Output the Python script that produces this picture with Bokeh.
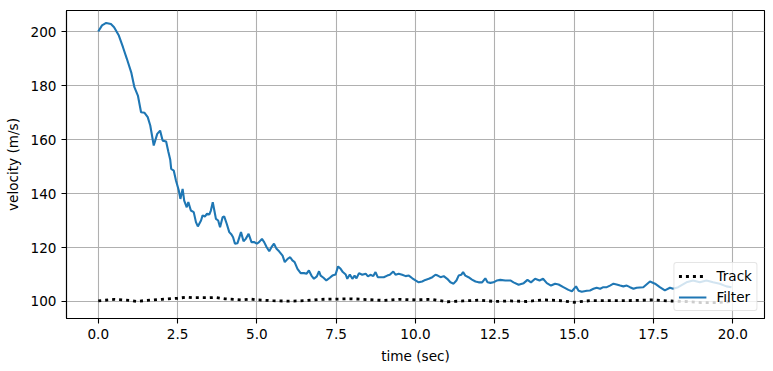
from bokeh.plotting import figure
from bokeh.models import Range1d, FixedTicker, Legend, LegendItem
from bokeh.embed import file_html
from bokeh.resources import INLINE

# ---- data ----
filter_t = [0.00, 0.12, 0.25, 0.40, 0.50, 0.65, 0.78, 0.90, 1.04, 1.14, 1.25, 1.35, 1.46, 1.56,
            1.64, 1.75, 1.86, 1.95, 2.03, 2.14, 2.21, 2.27, 2.30, 2.38, 2.45, 2.54, 2.59, 2.66,
            2.71, 2.79, 2.84, 2.92, 3.01, 3.08, 3.14, 3.24, 3.29, 3.36, 3.43, 3.50, 3.55, 3.61,
            3.66, 3.71, 3.78, 3.84, 3.92, 3.97, 4.05, 4.13, 4.20, 4.25, 4.31, 4.39, 4.50, 4.58,
            4.65, 4.74, 4.83, 4.92, 5.00, 5.07, 5.16, 5.23, 5.31, 5.39, 5.46, 5.54, 5.62, 5.70,
            5.81, 5.88, 5.97, 6.05, 6.12, 6.19, 6.28, 6.38, 6.49, 6.57, 6.64, 6.72, 6.80, 6.89,
            6.96, 7.01, 7.10, 7.19, 7.30, 7.38, 7.48, 7.56, 7.64, 7.71, 7.80, 7.85, 7.93, 8.01,
            8.08, 8.14, 8.22, 8.32, 8.43, 8.50, 8.58, 8.67, 8.74, 8.81, 8.90, 9.00, 9.11, 9.19,
            9.30, 9.37, 9.47, 9.58, 9.69, 9.79, 9.90, 10.00, 10.10, 10.21, 10.31, 10.42, 10.53,
            10.63, 10.70, 10.79, 10.89, 11.00, 11.10, 11.20, 11.29, 11.36, 11.44, 11.50, 11.57,
            11.67, 11.78, 11.89, 11.99, 12.10, 12.20, 12.27, 12.36, 12.46, 12.57, 12.67, 12.83,
            12.99, 13.09, 13.25, 13.41, 13.53, 13.64, 13.77, 13.91, 14.02, 14.14, 14.27, 14.40,
            14.51, 14.66, 14.82, 14.93, 15.06, 15.14, 15.24, 15.40, 15.50, 15.61, 15.71, 15.82,
            15.92, 16.03, 16.13, 16.24, 16.34, 16.45, 16.55, 16.66, 16.76, 16.87, 16.97, 17.18,
            17.39, 17.55, 17.70, 17.86, 18.02, 18.12, 18.28, 18.54, 18.75, 18.96, 19.17, 19.38,
            19.59, 19.80, 19.96]
filter_v = [200.0, 202.3, 203.2, 202.8, 201.6, 198.5, 194.2, 190.0, 184.9, 179.4, 176.3, 170.1,
            169.9, 168.3, 165.2, 157.8, 162.1, 163.3, 159.6, 159.3, 155.5, 152.5, 149.1, 148.5,
            144.8, 141.1, 138.0, 141.7, 137.4, 134.9, 136.8, 133.7, 133.1, 129.4, 127.8, 130.0,
            131.9, 131.5, 132.5, 132.2, 133.7, 136.8, 133.7, 130.6, 130.0, 127.5, 131.2, 131.5,
            128.8, 125.7, 124.8, 123.8, 121.4, 121.6, 125.7, 122.3, 123.2, 125.1, 122.0, 122.0,
            121.4, 122.0, 123.2, 122.0, 120.1, 118.6, 120.1, 121.4, 119.5, 118.6, 117.0, 114.6,
            115.8, 116.4, 115.2, 114.6, 112.1, 110.5, 110.5, 110.3, 111.5, 109.6, 108.4, 109.3,
            111.2, 109.6, 108.8, 107.8, 108.8, 109.6, 110.0, 113.0, 112.1, 110.9, 110.0, 108.4,
            110.0, 108.4, 109.6, 108.6, 110.5, 109.9, 110.3, 109.3, 109.9, 109.4, 110.9, 109.0,
            109.0, 109.0, 109.6, 109.9, 111.1, 109.9, 110.3, 109.9, 109.4, 109.6, 108.6, 107.8,
            107.1, 107.4, 108.0, 108.4, 109.0, 109.9, 109.6, 109.0, 109.4, 108.4, 107.1, 106.6,
            107.8, 109.6, 109.9, 110.9, 109.6, 109.0, 108.1, 107.4, 107.1, 107.1, 108.6, 107.1,
            106.9, 107.1, 107.8, 108.0, 107.8, 107.8, 107.1, 106.2, 106.8, 108.0, 107.1, 108.4,
            107.8, 108.4, 106.8, 105.9, 106.6, 106.3, 105.3, 104.3, 103.8, 105.6, 104.0, 103.6,
            104.0, 104.1, 104.7, 105.1, 104.7, 105.3, 105.3, 105.9, 106.6, 106.3, 105.9, 105.6,
            105.9, 105.3, 104.7, 105.1, 105.3, 107.4, 106.6, 105.3, 104.1, 105.1, 104.7, 105.3,
            107.1, 107.8, 107.1, 107.8, 107.1, 106.6, 105.6, 105.3]

track_t = [0.0, 0.5, 1.0, 1.2, 1.5, 2.0, 2.5, 2.8, 3.0, 3.5, 3.7, 4.0, 4.5, 4.8, 5.0, 5.5, 6.0,
           6.5, 7.0, 7.5, 8.0, 8.5, 9.0, 9.5, 10.0, 10.5, 11.0, 11.5, 12.0, 12.5, 13.0, 13.5,
           14.0, 14.5, 15.0, 15.5, 16.0, 16.5, 17.0, 17.5, 18.0, 18.5, 19.0, 19.5, 20.0]
track_v = [100.2, 100.8, 100.4, 100.0, 100.4, 100.8, 101.2, 101.6, 101.4, 101.4, 101.5, 101.0,
           100.6, 100.9, 100.6, 100.3, 100.1, 100.3, 100.8, 100.9, 101.0, 100.7, 100.4, 100.8,
           100.6, 100.8, 99.9, 100.2, 100.5, 100.0, 100.2, 100.0, 100.6, 100.4, 99.7, 100.3,
           100.3, 100.3, 100.4, 100.6, 100.2, 100.0, 99.6, 99.6, 100.0]

x_ticks = [0, 2.5, 5, 7.5, 10, 12.5, 15, 17.5, 20]
x_tick_labels = ["0.0", "2.5", "5.0", "7.5", "10.0", "12.5", "15.0", "17.5", "20.0"]
y_ticks = [100, 120, 140, 160, 180, 200]

FONT = "DejaVu Sans"
FS = "13.6px"

p = figure(width=773, height=371, output_backend="svg", toolbar_location=None,
           x_range=Range1d(-1.0, 21.0), y_range=Range1d(93.7, 207.8),
           min_border_left=66, min_border_right=9, min_border_top=10, min_border_bottom=53)

p.background_fill_color = "white"
p.border_fill_color = "white"
p.outline_line_color = "black"
p.outline_line_width = 1.1

track_r = p.line(track_t, track_v, line_color="black", line_width=2.8, line_dash="3 4")
filter_r = p.line(filter_t, filter_v, line_color="#1f77b4", line_width=2.1)

for ax in (p.xaxis[0], p.yaxis[0]):
    ax.axis_line_color = "black"
    ax.axis_line_width = 1.1
    ax.major_tick_in = 0
    ax.major_tick_out = 5
    ax.major_tick_line_width = 1.1
    ax.minor_tick_line_color = None
    ax.major_label_text_font = FONT
    ax.major_label_text_font_size = FS
    ax.major_label_text_color = "black"
    ax.axis_label_text_font = FONT
    ax.axis_label_text_font_size = FS
    ax.axis_label_text_font_style = "normal"
    ax.axis_label_text_color = "black"
    ax.major_label_standoff = 5

p.xaxis[0].ticker = FixedTicker(ticks=x_ticks)
p.xaxis[0].major_label_overrides = {t: l for t, l in zip(x_ticks, x_tick_labels)}
p.yaxis[0].ticker = FixedTicker(ticks=y_ticks)
p.xaxis[0].axis_label = "time (sec)"
p.yaxis[0].axis_label = "velocity (m/s)"
p.xaxis[0].axis_label_standoff = 6
p.yaxis[0].axis_label_standoff = 7

for g in (p.xgrid[0], p.ygrid[0]):
    g.grid_line_color = "#b0b0b0"
    g.grid_line_width = 1.1
p.xgrid[0].ticker = FixedTicker(ticks=x_ticks)
p.ygrid[0].ticker = FixedTicker(ticks=y_ticks)

legend = Legend(items=[LegendItem(label="Track", renderers=[track_r]),
                       LegendItem(label="Filter", renderers=[filter_r])],
                location="bottom_right")
legend.margin = 7
legend.padding = 4
legend.spacing = 3
legend.glyph_width = 28
legend.glyph_height = 16
legend.label_height = 18
legend.label_standoff = 10
legend.label_text_font = FONT
legend.label_text_font_size = FS
legend.label_text_color = "black"
legend.background_fill_color = "white"
legend.background_fill_alpha = 0.8
legend.border_line_color = "#cccccc"
legend.border_line_width = 1
legend.border_radius = 3
p.add_layout(legend)

open("out.html", "w").write(file_html(p, INLINE))
